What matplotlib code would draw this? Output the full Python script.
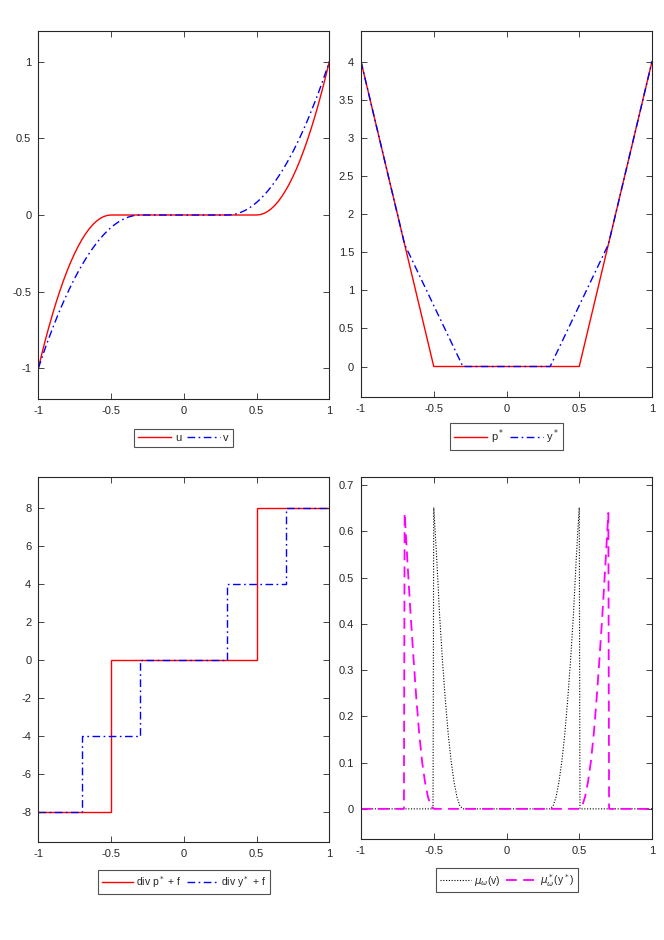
import numpy as np
import matplotlib
matplotlib.use("Agg")
import matplotlib.pyplot as plt

plt.rcParams['font.family'] = ['Liberation Sans', 'DejaVu Sans']
plt.rcParams['mathtext.fontset'] = 'dejavusans'

# ---------------- data ----------------
# top-left: u (left branch, right branch is odd-symmetric)
u_x_left = [-1.0, -0.975, -0.95, -0.925, -0.9, -0.875, -0.85, -0.825, -0.8, -0.775, -0.75,
            -0.725, -0.7, -0.675, -0.65, -0.625, -0.6, -0.575, -0.55, -0.525, -0.5]
u_y_left = [-1.0, -0.9025, -0.81, -0.7225, -0.64, -0.5625, -0.49, -0.4225, -0.36, -0.3025, -0.25,
            -0.2025, -0.16, -0.1225, -0.09, -0.0625, -0.04, -0.0225, -0.01, -0.0025, 0.0]
v_x_left = [-1.0, -0.975, -0.95, -0.925, -0.9, -0.875, -0.85, -0.825, -0.8, -0.775, -0.75,
            -0.725, -0.7, -0.675, -0.65, -0.625, -0.6, -0.575, -0.55, -0.525, -0.5,
            -0.475, -0.45, -0.425, -0.4, -0.375, -0.35, -0.325, -0.3]
v_y_left = [-1.0, -0.930, -0.862, -0.797, -0.735, -0.675, -0.617, -0.5625, -0.510, -0.4605, -0.413,
            -0.3686, -0.3265, -0.287, -0.25, -0.2156, -0.1837, -0.1544, -0.1276, -0.1033, -0.0816,
            -0.0625, -0.0459, -0.0319, -0.0204, -0.0115, -0.0051, -0.0013, 0.0]

# top-right: p* and y*
p_x = [-1.0, -0.5, 0.5, 1.0]
p_y = [4.0, 0.0, 0.0, 4.0]
ys_x = [-1.0, -0.7, -0.3, 0.3, 0.7, 1.0]
ys_y = [4.0, 1.6, 0.0, 0.0, 1.6, 4.0]

# bottom-left: div p* + f, div y* + f (piecewise constant)
divp_edges = [-1.0, -0.5, 0.5, 1.0]
divp_vals = [-8, 0, 8]
divy_edges = [-1.0, -0.7, -0.3, 0.3, 0.7, 1.0]
divy_vals = [-8, -4, 0, 4, 8]

# bottom-right: mu_omega(v) and mu*_omega(y*)
mu_x = [-1.0, -0.505, -0.5, -0.48, -0.46, -0.44, -0.42, -0.40, -0.38, -0.36, -0.34, -0.32, -0.30,
        0.30, 0.32, 0.34, 0.36, 0.38, 0.40, 0.42, 0.44, 0.46, 0.48, 0.5, 0.505, 1.0]
mu_y = [0.0, 0.0, 0.652, 0.545, 0.42, 0.32, 0.234, 0.16, 0.102, 0.057, 0.025, 0.006, 0.0,
        0.0, 0.006, 0.025, 0.057, 0.102, 0.16, 0.234, 0.32, 0.42, 0.545, 0.652, 0.0, 0.0]
mus_x = [-1.0, -0.705, -0.7, -0.68, -0.66, -0.64, -0.62, -0.60, -0.58, -0.56, -0.54, -0.52, -0.5,
         0.5, 0.52, 0.54, 0.56, 0.58, 0.60, 0.62, 0.64, 0.66, 0.68, 0.7, 0.705, 1.0]
mus_y = [0.0, 0.0, 0.64, 0.53, 0.425, 0.33, 0.24, 0.163, 0.102, 0.058, 0.026, 0.006, 0.0,
         0.0, 0.006, 0.026, 0.058, 0.102, 0.163, 0.24, 0.33, 0.425, 0.53, 0.64, 0.0, 0.0]

x_ticks = [-1, -0.5, 0, 0.5, 1]
x_ticklabels = ['-1', '-0.5', '0', '0.5', '1']
tl_yticks = [-1, -0.5, 0, 0.5, 1]
tl_yticklabels = ['-1', '-0.5', '0', '0.5', '1']
tr_yticks = [0, 0.5, 1, 1.5, 2, 2.5, 3, 3.5, 4]
tr_yticklabels = ['0', '0.5', '1', '1.5', '2', '2.5', '3', '3.5', '4']
bl_yticks = [-8, -6, -4, -2, 0, 2, 4, 6, 8]
bl_yticklabels = ['-8', '-6', '-4', '-2', '0', '2', '4', '6', '8']
br_yticks = [0, 0.1, 0.2, 0.3, 0.4, 0.5, 0.6, 0.7]
br_yticklabels = ['0', '0.1', '0.2', '0.3', '0.4', '0.5', '0.6', '0.7']

# ---------------- figure ----------------
W, H = 664, 940
fig = plt.figure(figsize=(W / 100, H / 100), dpi=100)

def px_axes(left, top, right, bottom):
    return fig.add_axes([left / W, 1 - bottom / H, (right - left) / W, (bottom - top) / H])

axc = '#262626'
FS = 8

def style(ax, yticks, ylabels, ylim):
    ax.set_xlim(-1, 1)
    ax.set_ylim(*ylim)
    ax.set_xticks(x_ticks)
    ax.set_xticklabels(x_ticklabels)
    ax.set_yticks(yticks)
    ax.set_yticklabels(ylabels)
    ax.tick_params(direction='in', length=4, width=0.6, colors=axc, labelsize=FS,
                   top=True, right=True, pad=5)
    for s in ax.spines.values():
        s.set_color(axc)
        s.set_linewidth(0.8)

dashdot = (0, (5.5, 2.5, 1.2, 2.5))

def add_legend(ax, cx, cy, fs=FS):
    leg = ax.legend(loc='center', bbox_to_anchor=(cx / W, 1 - cy / H), bbox_transform=fig.transFigure,
                    ncol=2, fontsize=fs, frameon=True, fancybox=False, borderpad=0.35,
                    handlelength=3.0, handletextpad=0.3, columnspacing=0.5, borderaxespad=0)
    fr = leg.get_frame()
    fr.set_edgecolor('#262626')
    fr.set_linewidth(0.8)
    for t in leg.get_texts():
        t.set_color(axc)
    return leg

# top-left
ax1 = px_axes(38.3, 31, 329.3, 399)
ux = np.concatenate([u_x_left, -np.array(u_x_left[::-1])])
uy = np.concatenate([u_y_left, -np.array(u_y_left[::-1])])
vx = np.concatenate([v_x_left, -np.array(v_x_left[::-1])])
vy = np.concatenate([v_y_left, -np.array(v_y_left[::-1])])
ax1.plot(ux, uy, color='red', lw=1.0, label='u')
ax1.plot(vx, vy, color='blue', lw=1.0, linestyle=dashdot, label='v')
style(ax1, tl_yticks, tl_yticklabels, (-1.2, 1.2))
add_legend(ax1, 183.5, 438)

# top-right
ax2 = px_axes(361, 31, 652, 397)
ax2.plot(p_x, p_y, color='red', lw=1.0, label=r'p$^*$')
ax2.plot(ys_x, ys_y, color='blue', lw=1.0, linestyle=dashdot, label=r'y$^*$')
style(ax2, tr_yticks, tr_yticklabels, (-0.4, 4.4))
add_legend(ax2, 506.5, 436.5)

# bottom-left
ax3 = px_axes(38.3, 477.3, 329.3, 842.3)
ax3.stairs(divp_vals, divp_edges, baseline=None, color='red', lw=1.0, label=r'div p$^*$ + f')
ax3.stairs(divy_vals, divy_edges, baseline=None, color='blue', lw=1.0, linestyle=dashdot,
           label=r'div y$^*$ + f')
style(ax3, bl_yticks, bl_yticklabels, (-9.6, 9.6))
add_legend(ax3, 183.7, 882, fs=7.5)

# bottom-right
ax4 = px_axes(361, 477.3, 652, 839)
ax4.plot(mu_x, mu_y, color='black', lw=0.8, linestyle=(0, (1, 1.5)), label=r'$\mu_\omega$(v)')
ax4.plot(mus_x, mus_y, color='magenta', lw=1.3, linestyle=(0, (6, 3.5)),
         label=r'$\mu^*_\omega$(y$^*$)')
style(ax4, br_yticks, br_yticklabels, (-0.0652, 0.7172))
add_legend(ax4, 507.2, 880.3, fs=7.5)

fig.savefig('out.png', dpi=100)
